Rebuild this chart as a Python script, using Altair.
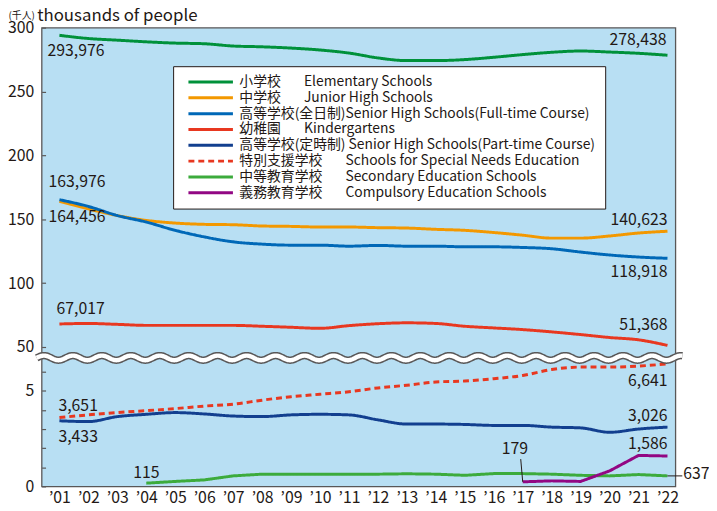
import altair as alt
import pandas as pd
import numpy as np

years = list(range(2001, 2023))

GAP = "\u3000\u00a0\u00a0\u00a0"
names = [
    "小学校" + GAP + "Elementary Schools",
    "中学校" + GAP + "Junior High Schools",
    "高等学校(全日制)Senior High Schools(Full-time Course)",
    "幼稚園" + GAP + "Kindergartens",
    "高等学校(定時制)\u00a0Senior High Schools(Part-time Course)",
    "特別支援学校" + GAP + "Schools for Special Needs Education",
    "中等教育学校" + GAP + "Secondary Education Schools",
    "義務教育学校" + GAP + "Compulsory Education Schools",
]
colors = ["#00913a", "#f39800", "#0068b7", "#e83820", "#123f8f", "#e83820", "#3cab3c", "#920783"]
dashes = [[1, 0], [1, 0], [1, 0], [1, 0], [1, 0], [6, 4], [1, 0], [1, 0]]

# thousands of people
elementary = [294.0, 291.5, 290.2, 288.9, 287.9, 287.4, 285.6, 285.0, 284.0, 282.5, 280.1,
              276.3, 274.2, 274.2, 275.0, 276.8, 278.9, 280.7, 281.7, 280.9, 279.9, 278.4]
junior = [164.0, 158.1, 152.9, 149.1, 147.0, 146.0, 145.7, 144.7, 144.4, 143.9, 143.9,
          143.4, 143.1, 142.1, 141.3, 139.6, 137.5, 135.2, 135.2, 136.9, 139.2, 140.6]
senior_full = [165.3, 160.0, 152.9, 147.8, 141.3, 136.2, 132.3, 130.5, 129.7, 129.7, 128.9,
               129.5, 128.9, 128.9, 128.4, 128.4, 127.9, 126.9, 124.3, 122.0, 120.4, 119.4]
kinder = [68.0, 68.4, 67.7, 66.9, 66.9, 66.9, 66.9, 66.2, 65.4, 64.6, 66.7,
          68.2, 68.9, 68.4, 66.2, 64.9, 63.6, 61.8, 59.7, 57.4, 55.6, 51.2]
senior_part = [3.43, 3.39, 3.65, 3.77, 3.86, 3.79, 3.68, 3.65, 3.74, 3.77, 3.74,
               3.48, 3.26, 3.26, 3.24, 3.19, 3.19, 3.10, 3.06, 2.83, 3.00, 3.10]
special = [3.60, 3.74, 3.86, 3.96, 4.07, 4.20, 4.30, 4.51, 4.69, 4.82, 4.95,
           5.15, 5.29, 5.46, 5.51, 5.63, 5.80, 6.11, 6.24, 6.24, 6.29, 6.41]
secondary_years = years[3:]
secondary = [0.17, 0.26, 0.34, 0.55, 0.64, 0.64, 0.64, 0.64, 0.64, 0.66,
             0.64, 0.58, 0.67, 0.67, 0.64, 0.58, 0.55, 0.62, 0.55]
compulsory_years = years[16:]
compulsory = [0.24, 0.29, 0.26, 0.81, 1.62, 1.59]

top_ticks = [50, 100, 150, 200, 250, 300]
bottom_ticks = [0, 1, 2, 3, 4, 5, 6]

INK = "#231815"
BORDER = "#595757"
FONT = "Noto Sans CJK JP"


def frame(name, xs, vs):
    return pd.DataFrame({"year": xs, "value": vs, "series": name})


top_df = pd.concat([
    frame(names[0], years, elementary),
    frame(names[1], years, junior),
    frame(names[2], years, senior_full),
    frame(names[3], years, kinder),
])
bottom_smooth = pd.concat([
    frame(names[4], years, senior_part),
    frame(names[5], years, special),
])
bottom_straight = pd.concat([
    frame(names[6], secondary_years, secondary),
    frame(names[7], compulsory_years, compulsory),
])

px_per_year = 641 / (2022.273 - 2000.385)
px_per_unit_bottom = 19.35

x_enc = alt.X("year:Q", scale=alt.Scale(domain=[2000.385, 2022.273], nice=False, zero=False),
              axis=alt.Axis(values=years, labelExpr="'\u2019' + substring(toString(datum.value), 2)",
                            ticks=False, domain=False, grid=False, labelFontSize=16,
                            labelColor=INK, labelPadding=3, title=None, labelFlush=False,
                            labelFont=FONT))

top_scale = alt.Scale(domain=[43, 300], range=[332, 0], nice=False, zero=False)
bot_scale = alt.Scale(domain=[0, 6.7], range=[464, 334.4], nice=False, zero=False)

top_axis = alt.Axis(orient="left", values=top_ticks, domain=False, ticks=False, tickSize=0,
                    grid=True, gridDash=[4, 3000], gridColor=BORDER, gridWidth=1.2,
                    labelFontSize=16, labelColor=INK, labelPadding=8, labelFont=FONT,
                    title="thousands of people", titleAngle=0, titleAlign="left",
                    titleBaseline="middle", titleX=-5, titleY=-12, titleFontSize=17,
                    titleFontWeight="normal", titleColor=INK, titleFont=FONT)
bot_axis = alt.Axis(orient="left", values=bottom_ticks, domain=False, ticks=False, tickSize=0,
                    grid=True, gridDash=[4, 3000], gridColor=BORDER, gridWidth=1.2,
                    labelExpr="datum.value == 0 || datum.value == 5 ? datum.label : ''",
                    labelFontSize=16, labelColor=INK, labelPadding=8, labelFont=FONT,
                    title="(千人)", titleAngle=0, titleAlign="left", titleBaseline="middle",
                    titleX=-34, titleY=-12, titleFontSize=10, titleFontWeight="normal",
                    titleColor=INK, titleFont=FONT)

legend = alt.Legend(title=None, orient="none", legendX=133, legendY=39, direction="vertical",
                    symbolType="M-4.5,0H4.5", symbolSize=100, symbolStrokeWidth=3,
                    symbolOffset=22, labelOffset=22, labelFont=FONT, labelFontSize=14,
                    labelColor=INK, labelLimit=0, padding=9, rowPadding=2,
                    strokeColor=INK, fillColor="white", cornerRadius=0)

color_enc = alt.Color("series:N", scale=alt.Scale(domain=names, range=colors), legend=legend)
dash_enc = alt.StrokeDash("series:N", scale=alt.Scale(domain=names, range=dashes), legend=legend)

y_top = alt.Y("value:Q", scale=top_scale, axis=top_axis)
y_bot = alt.Y("value:Q", scale=bot_scale, axis=bot_axis)

top_lines = alt.Chart(top_df).mark_line(strokeWidth=3, interpolate="monotone").encode(
    x=x_enc, y=y_top, color=color_enc, strokeDash=dash_enc)
bot_lines1 = alt.Chart(bottom_smooth).mark_line(strokeWidth=3, interpolate="monotone").encode(
    x=x_enc, y=y_bot, color=color_enc, strokeDash=dash_enc)
bot_lines2 = alt.Chart(bottom_straight).mark_line(strokeWidth=3).encode(
    x=x_enc, y=y_bot, color=color_enc, strokeDash=dash_enc)

series_values = {
    "elementary": (years, elementary), "junior": (years, junior),
    "senior_full": (years, senior_full), "kinder": (years, kinder),
    "senior_part": (years, senior_part), "special": (years, special),
    "secondary": (secondary_years, secondary), "compulsory": (compulsory_years, compulsory),
}

top_labels = [
    ("elementary", 2001, "293,976", "left", -12, 16),
    ("elementary", 2022, "278,438", "right", -1, -15),
    ("senior_full", 2001, "163,976", "left", -11, -18),
    ("junior", 2001, "164,456", "left", -11, 16),
    ("kinder", 2001, "67,017", "left", -3, -15),
    ("junior", 2022, "140,623", "right", 0, -11),
    ("senior_full", 2022, "118,918", "right", 0, 14),
    ("kinder", 2022, "51,368", "right", 0, -21),
]
bottom_labels = [
    ("special", 2001, "3,651", "left", -1, -12),
    ("senior_part", 2001, "3,433", "left", -1, 16),
    ("secondary", 2004, "115", "center", 0, -10),
    ("special", 2022, "6,641", "right", 0, 17),
    ("senior_part", 2022, "3,026", "right", 0, -11),
    ("compulsory", 2022, "1,586", "right", 0, -12),
    ("compulsory", 2017, "179", "center", -8, -33),
    ("secondary", 2022, "637", "left", 16, -2),
]


def value_at(key, yr):
    xs, vs = series_values[key]
    return vs[xs.index(yr)]


def label_layers(specs, y_enc):
    out = []
    for key, yr, txt, align, dx, dy in specs:
        d = pd.DataFrame({"year": [yr], "value": [value_at(key, yr)], "label": [txt]})
        out.append(alt.Chart(d).mark_text(align=align, baseline="middle", dx=dx, dy=dy,
                                          fontSize=16, color=INK, font=FONT, clip=False)
                   .encode(x=x_enc, y=y_enc, text="label:N"))
    return out


# leader lines for "179" and "637"
v179 = value_at("compulsory", 2017)
v637 = value_at("secondary", 2022)
leaders = pd.DataFrame({
    "year": [2017, 2022],
    "value": [v179, v637],
    "year2": [2017 - 2 / px_per_year, 2022 + 15 / px_per_year],
    "value2": [v179 + 23 / px_per_unit_bottom, v637],
})
leader_layer = alt.Chart(leaders).mark_rule(color=INK, strokeWidth=1, clip=False).encode(
    x=x_enc, y=y_bot, x2="year2:Q", y2="value2:Q")

# axis-break wave (decoration)
wx = np.arange(2000.215, 2022.52, 0.02)
wave_df = pd.DataFrame({"year": wx,
                        "value": 6.72 + 0.12 * np.sin(2 * np.pi * (wx - 2000.215))})
wave_dark = alt.Chart(wave_df).mark_line(color=BORDER, strokeWidth=7.5, clip=False).encode(
    x=x_enc, y=y_bot)
wave_white = alt.Chart(wave_df).mark_line(color="white", strokeWidth=4.5, clip=False).encode(
    x=x_enc, y=y_bot)

top_group = alt.layer(top_lines, *label_layers(top_labels, y_top))
bottom_group = alt.layer(bot_lines1, bot_lines2, leader_layer,
                         *label_layers(bottom_labels, y_bot), wave_dark, wave_white)

chart = alt.layer(top_group, bottom_group).resolve_scale(y="independent").properties(
    width=641, height=464,
    autosize=alt.AutoSizeParams(type="none"),
    padding={"left": 34, "top": 17, "right": 34, "bottom": 22},
    background="white",
).configure(font=FONT).configure_view(fill="#b8dff3", stroke=BORDER, strokeWidth=1.3)

chart.save("out.html", embed_options={"renderer": "svg", "actions": False})
